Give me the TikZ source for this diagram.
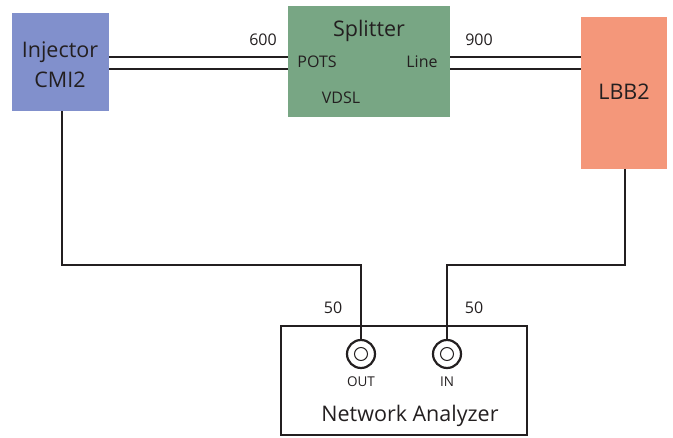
\documentclass[tikz,border=0pt]{standalone}
\usepackage{fontspec}
\setmainfont{Open Sans}
\definecolor{injc}{HTML}{8190CC}
\definecolor{splc}{HTML}{78A684}
\definecolor{lbbc}{HTML}{F4977A}
\definecolor{txt}{HTML}{231F20}
\begin{document}
\begin{tikzpicture}[x=1pt,y=-1pt,
  box/.style={draw=none,inner sep=0pt,text=txt},
  wire/.style={line width=1.8pt,draw=txt},
  lbl/.style={inner sep=0pt,text=txt,font=\fontsize{16}{18}\selectfont},
  big/.style={inner sep=0pt,text=txt,font=\fontsize{21.5}{24}\selectfont},
  port/.style={circle,draw=txt,line width=2.2pt,minimum size=28pt,inner sep=0pt}]
\useasboundingbox (0,0) rectangle (673,438);
% boxes
\fill[injc] (12,13) rectangle (109,111);
\coordinate (injR1) at (109,57); \coordinate (injR2) at (109,69);
\fill[splc] (288,6) rectangle (450,117);
\fill[lbbc] (581,17) rectangle (667,169);
\node[big] (injt) at (60,52) {Injector};
\node[big] (injt2) at (60,80) {CMI2};
\node[big] (splt) at (369,31) {Splitter};
\node[big] (lbbt) at (624,92) {LBB2};
\node[lbl] (pots) at (317,62) {POTS};
\node[lbl] (line) at (422,62) {Line};
\node[lbl] (vdsl) at (341,98) {VDSL};
\node[lbl] (l600) at (263,40) {600};
\node[lbl] (l900) at (479,40) {900};
% double lines
\coordinate (sL1) at (288,57); \coordinate (sL2) at (288,69);
\coordinate (sR1) at (450,57); \coordinate (sR2) at (450,69);
\coordinate (lL1) at (581,57); \coordinate (lL2) at (581,69);
\draw[wire] (injR1) -- (sL1);
\draw[wire] (injR2) -- (sL2);
\draw[wire] (sR1) -- (lL1);
\draw[wire] (sR2) -- (lL2);
% network analyzer
\node[draw=txt,line width=1.8pt,minimum width=246pt,minimum height=109pt,inner sep=0pt] (na) at (404,380.5) {};
\node[port] (out) at (361,354) {};
\node[port] (in) at (447,354) {};
\node[circle,draw=txt,line width=1pt,minimum size=13pt,inner sep=0pt] (outi) at (out) {};
\node[circle,draw=txt,line width=1pt,minimum size=13pt,inner sep=0pt] (ini) at (in) {};
\node[lbl,font=\fontsize{13.5}{15}\selectfont] (outt) at (361,382) {OUT};
\node[lbl,font=\fontsize{13.5}{15}\selectfont] (intt) at (447,382) {IN};
\node[big] (nat) at (410,416) {Network Analyzer};
\node[lbl] (f1) at (333,308) {50};
\node[lbl] (f2) at (474,308) {50};
% wires
\coordinate (injB) at (62,111);
\coordinate (lbbB) at (625,169);
\draw[wire] (injB) |- (361,265) -- (out.north);
\draw[wire] (lbbB) |- (447,265) -- (in.north);
\end{tikzpicture}
\end{document}
